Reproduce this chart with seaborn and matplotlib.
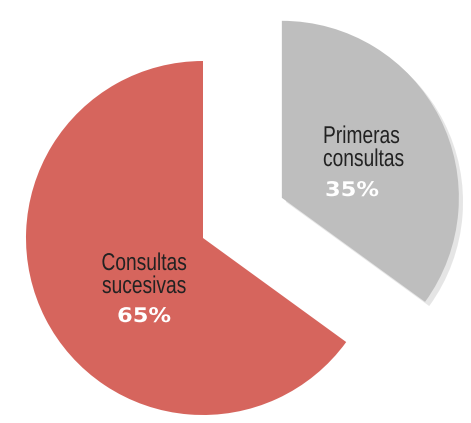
import matplotlib
matplotlib.use("Agg")
import matplotlib.pyplot as plt
import matplotlib.patheffects as pe
from matplotlib.transforms import Affine2D
import seaborn as sns

categories = ["Primeras\nconsultas", "Consultas\nsucesivas"]
values = [35, 65]
pct_labels = ["35%", "65%"]
colors = ["#BEBEBE", "#D6655D"]

sns.set_theme(style="white")
plt.rcParams['font.family'] = ['Liberation Sans', 'DejaVu Sans']

W, H = 471, 423
fig = plt.figure(figsize=(W / 100, H / 100), dpi=100)
ax = fig.add_axes([0, 0, 1, 1])
wedges, _ = ax.pie(values, colors=colors, startangle=90, counterclock=False,
                   explode=[0.5, 0], radius=1.0, center=(0, 0),
                   wedgeprops=dict(linewidth=0))
wedges[0].set_path_effects([pe.SimplePatchShadow(offset=(3, -3), shadow_rgbFace="#9a9a9a", alpha=0.25),
                            pe.Normal()])

R = 177.0
CX, CY = 203, 238
ax.set_xlim(-CX / R, (W - CX) / R)
ax.set_ylim(-(H - CY) / R, CY / R)
ax.set_aspect("auto")
ax.axis("off")


class HScale(pe.AbstractPathEffect):
    """Scale the glyph outlines horizontally about a fixed display x."""
    def __init__(self, sx, x0):
        super().__init__()
        self.sx = sx
        self.x0 = x0

    def draw_path(self, renderer, gc, tpath, affine, rgbFace=None):
        t = affine + Affine2D().translate(-self.x0, 0).scale(self.sx, 1).translate(self.x0, 0)
        renderer.draw_path(gc, tpath, t, rgbFace)


def label(text, px, py, ha, size, color, sx, bold=False, family=None):
    x, y = (px - CX) / R, (CY - py) / R
    kw = dict(ha=ha, va="baseline", fontsize=size, color=color)
    if bold:
        kw["fontweight"] = "bold"
    if family:
        kw["family"] = family
    ax.text(x, y, text, path_effects=[HScale(sx, px)], **kw)


cond = 0.79
g1, g2 = categories[0].split("\n")
r1, r2 = categories[1].split("\n")

# gray slice labels (left aligned)
label(g1, 323, 143, "left", 17.5, "#222222", cond)
label(g2, 323, 166, "left", 17.5, "#222222", cond)
label(pct_labels[0], 325, 196, "left", 14.5, "white", 1.12, bold=True, family=["DejaVu Sans"])

# red slice labels (centered)
label(r1, 144, 270, "center", 17.5, "#222222", cond)
label(r2, 144, 293, "center", 17.5, "#222222", cond)
label(pct_labels[1], 144, 322, "center", 14.5, "white", 1.12, bold=True, family=["DejaVu Sans"])

fig.savefig("out.png", dpi=100, facecolor="white")
